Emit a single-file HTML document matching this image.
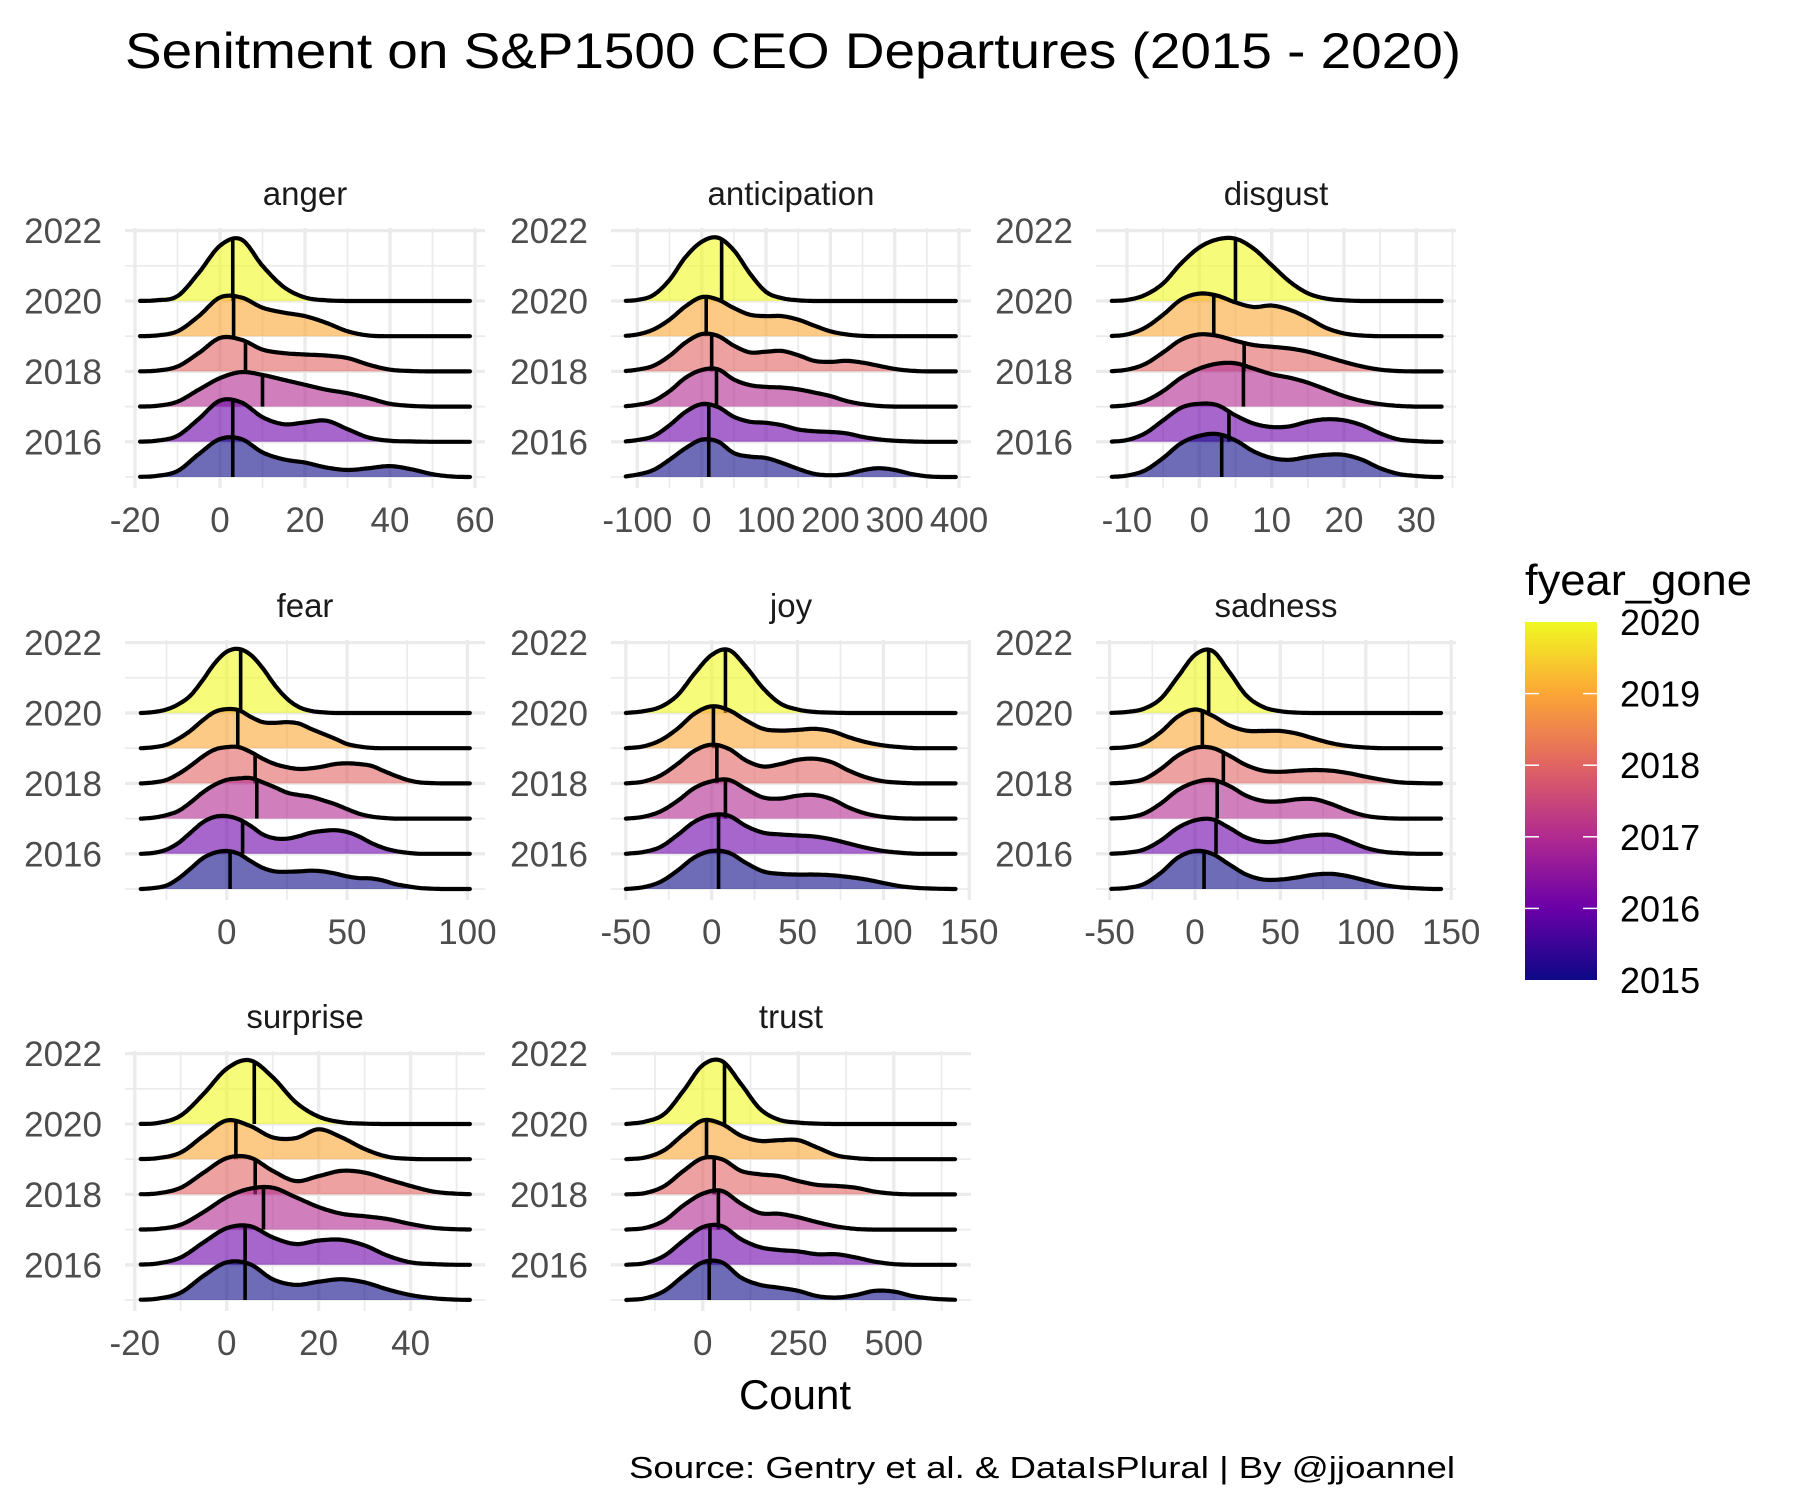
<!DOCTYPE html>
<html><head><meta charset="utf-8"><title>CEO Departures Sentiment</title>
<style>html,body{margin:0;padding:0;background:#fff}svg{display:block}</style></head>
<body>
<svg id="chart" width="1800" height="1500" viewBox="0 0 1800 1500" xmlns="http://www.w3.org/2000/svg" font-family="Liberation Sans, Arial, sans-serif">
<defs>
<linearGradient id="plasma" x1="0" y1="1" x2="0" y2="0">
<stop offset="0" stop-color="#0d0887"/><stop offset="0.2" stop-color="#6a00a8"/><stop offset="0.4" stop-color="#b12a90"/><stop offset="0.6" stop-color="#e16462"/><stop offset="0.8" stop-color="#fca636"/><stop offset="1" stop-color="#f0f921"/>
</linearGradient>
</defs>
<rect width="1800" height="1500" fill="#fff"/>
<text x="125" y="68" font-size="50" fill="#000" textLength="1336" lengthAdjust="spacingAndGlyphs">Senitment on S&amp;P1500 CEO Departures (2015 - 2020)</text>
<g id="panels"></g>
<text x="795" y="1409" font-size="42" text-anchor="middle" fill="#000">Count</text>
<text x="1455" y="1478" font-size="31" text-anchor="end" fill="#000" textLength="826" lengthAdjust="spacingAndGlyphs">Source: Gentry et al. &amp; DataIsPlural | By @jjoannel</text>
<g>
<text x="1525" y="595" font-size="44" fill="#000" textLength="227" lengthAdjust="spacingAndGlyphs">fyear_gone</text>
<rect x="1525" y="622" width="72" height="358" fill="url(#plasma)"/>
<g id="legendTicks"></g>
</g>
</svg>
<script>
// ---------- data ----------
const years = [2020, 2019, 2018, 2017, 2016, 2015];
const legendYears = [2015, 2016, 2017, 2018, 2019, 2020];
const yTickLabels = ["2016", "2018", "2020", "2022"];

const angerXs = [-20,-15,-10,-5,0,5,10,15,20,25,30,35,40,45,50,55,60];
const anger2020 = [0,0.02,0.14,0.8,1.57,1.75,1.0,0.4,0.1,0.02,0,0,0,0,0,0,0];
const anger2019 = [0,0.02,0.14,0.57,1.1,1.1,0.81,0.67,0.57,0.38,0.14,0.02,0,0,0,0,0];
const anger2018 = [0,0.02,0.14,0.52,0.95,0.9,0.62,0.52,0.48,0.45,0.38,0.19,0.05,0.01,0,0,0];
const anger2017 = [0,0.02,0.14,0.48,0.81,0.98,0.9,0.76,0.62,0.48,0.38,0.24,0.08,0.02,0,0,0];
const anger2016 = [0,0.03,0.17,0.65,1.17,1.12,0.7,0.5,0.55,0.6,0.36,0.12,0.03,0.01,0,0,0];
const anger2015 = [0,0.03,0.17,0.65,1.08,1.08,0.7,0.5,0.41,0.27,0.2,0.25,0.31,0.22,0.08,0.01,0];
const angerMedians = [3,3.2,6,10,3,3];
const angerTicks = ["-20","0","20","40","60"];

const anticipationXs = [-125,-100,-75,-50,-25,0,25,50,75,100,125,150,175,200,225,250,275,300,325,350,375,400];
const anticipation2020 = [0,0.03,0.17,0.6,1.25,1.68,1.8,1.44,0.78,0.26,0.08,0.02,0,0,0,0,0,0,0,0,0,0];
const anticipation2019 = [0,0.05,0.19,0.47,0.85,1.11,1.04,0.8,0.61,0.57,0.57,0.47,0.3,0.14,0.05,0.01,0,0,0,0,0,0];
const anticipation2018 = [0,0.05,0.16,0.44,0.82,1.06,1.01,0.73,0.54,0.56,0.58,0.46,0.3,0.27,0.3,0.25,0.16,0.07,0.02,0,0,0];
const anticipation2017 = [0,0.05,0.16,0.44,0.82,1.04,1.06,0.77,0.61,0.56,0.54,0.49,0.4,0.3,0.16,0.07,0.02,0,0,0,0,0];
const anticipation2016 = [0,0.05,0.16,0.47,0.85,1.07,0.99,0.71,0.57,0.54,0.47,0.35,0.3,0.28,0.24,0.14,0.07,0.03,0.01,0,0,0];
const anticipation2015 = [0,0.07,0.2,0.49,0.82,1.06,1.01,0.68,0.58,0.54,0.4,0.23,0.09,0.05,0.08,0.19,0.25,0.2,0.09,0.02,0,0];
const anticipationMedians = [31,7,15.5,23,11,11];
const anticipationTicks = ["-100","0","100","200","300","400"];

const disgustXs = [-12.5,-10,-7.5,-5,-2.5,0,2.5,5,7.5,10,12.5,15,17.5,20,22.5,25,27.5,30,32.5,35];
const disgust2020 = [0,0.03,0.17,0.5,1.07,1.52,1.75,1.77,1.49,1.02,0.55,0.22,0.07,0.02,0,0,0,0,0,0];
const disgust2019 = [0,0.05,0.24,0.61,1.04,1.21,1.15,0.96,0.83,0.87,0.75,0.52,0.24,0.08,0.02,0,0,0,0,0];
const disgust2018 = [0,0.05,0.21,0.54,0.9,1.05,1.01,0.87,0.75,0.7,0.65,0.56,0.42,0.27,0.14,0.05,0.01,0,0,0];
const disgust2017 = [0,0.04,0.16,0.44,0.82,1.08,1.22,1.23,1.08,0.92,0.82,0.68,0.49,0.3,0.16,0.07,0.02,0,0,0];
const disgust2016 = [0,0.05,0.24,0.61,0.97,1.08,1.04,0.75,0.52,0.42,0.44,0.57,0.64,0.61,0.47,0.24,0.07,0.02,0,0];
const disgust2015 = [0,0.04,0.19,0.54,0.96,1.17,1.22,1.04,0.73,0.54,0.49,0.57,0.63,0.63,0.49,0.25,0.09,0.03,0,0];
const disgustMedians = [5,2,6.2,6.1,4.1,3.1];
const disgustTicks = ["-10","0","10","20","30"];

const fearXs = [-35,-30,-25,-20,-15,-10,-5,0,5,10,15,20,25,30,35,40,45,50,55,60,65,70,75,80,85,90,95,100];
const fear2020 = [0,0.03,0.1,0.25,0.5,0.93,1.41,1.74,1.82,1.65,1.27,0.79,0.41,0.17,0.06,0.02,0,0,0,0,0,0,0,0,0,0,0,0];
const fear2019 = [0,0.03,0.1,0.27,0.5,0.79,1.03,1.11,1.08,0.89,0.74,0.72,0.74,0.7,0.55,0.41,0.27,0.12,0.05,0.01,0,0,0,0,0,0,0,0];
const fear2018 = [0,0.03,0.1,0.27,0.5,0.76,0.96,1.03,1.03,0.89,0.7,0.55,0.46,0.41,0.43,0.48,0.55,0.57,0.55,0.5,0.36,0.22,0.1,0.03,0.01,0,0,0];
const fear2017 = [0,0.03,0.1,0.22,0.46,0.74,0.96,1.1,1.14,1.15,1.03,0.89,0.74,0.67,0.62,0.52,0.41,0.27,0.14,0.06,0.02,0,0,0,0,0,0,0];
const fear2016 = [0,0.03,0.12,0.31,0.6,0.89,1.05,1.07,0.98,0.79,0.55,0.44,0.43,0.5,0.6,0.65,0.67,0.62,0.49,0.31,0.17,0.08,0.03,0,0,0,0,0];
const fear2015 = [0,0.03,0.1,0.3,0.58,0.87,1.03,1.08,1.0,0.79,0.6,0.5,0.49,0.5,0.52,0.5,0.44,0.36,0.31,0.3,0.24,0.14,0.08,0.03,0.01,0,0,0];
const fearMedians = [5.8,4.6,11.8,12.5,6.6,1.4];
const fearTicks = ["0","50","100"];

const joyXs = [-50,-40,-30,-20,-10,0,10,20,30,40,50,60,70,80,90,100,110,120,130,140];
const joy2020 = [0,0.05,0.17,0.5,1.12,1.65,1.79,1.31,0.7,0.27,0.1,0.03,0.01,0,0,0,0,0,0,0];
const joy2019 = [0,0.05,0.22,0.55,0.98,1.19,1.08,0.79,0.55,0.5,0.52,0.55,0.48,0.31,0.17,0.08,0.03,0,0,0];
const joy2018 = [0,0.05,0.22,0.55,0.93,1.1,0.98,0.65,0.48,0.55,0.67,0.7,0.6,0.36,0.17,0.06,0.02,0,0,0];
const joy2017 = [0,0.05,0.2,0.5,0.87,1.06,1.1,0.84,0.6,0.57,0.65,0.67,0.55,0.31,0.14,0.05,0.01,0,0,0];
const joy2016 = [0,0.05,0.19,0.53,0.91,1.1,1.08,0.79,0.6,0.55,0.52,0.49,0.41,0.29,0.17,0.08,0.03,0,0,0];
const joy2015 = [0,0.05,0.2,0.52,0.9,1.08,1.03,0.74,0.5,0.43,0.41,0.41,0.39,0.34,0.27,0.17,0.08,0.03,0.01,0];
const joyMedians = [8,1,3,8,4,4];
const joyTicks = ["-50","0","50","100","150"];

const sadnessXs = [-50,-40,-30,-20,-10,0,10,20,30,40,50,60,70,80,90,100,110,120,130,140,150];
const sadness2020 = [0,0.03,0.12,0.41,1.03,1.65,1.77,1.17,0.5,0.17,0.05,0.01,0,0,0,0,0,0,0,0,0];
const sadness2019 = [0,0.03,0.14,0.46,0.9,1.1,0.93,0.65,0.5,0.49,0.49,0.41,0.27,0.14,0.06,0.02,0,0,0,0,0];
const sadness2018 = [0,0.03,0.12,0.41,0.79,1.01,1.01,0.79,0.52,0.36,0.33,0.36,0.38,0.36,0.29,0.19,0.1,0.03,0.01,0,0];
const sadness2017 = [0,0.03,0.14,0.43,0.81,1.03,1.1,0.93,0.65,0.5,0.49,0.55,0.55,0.41,0.22,0.08,0.02,0,0,0,0];
const sadness2016 = [0,0.03,0.12,0.38,0.74,0.95,0.98,0.74,0.46,0.34,0.36,0.46,0.53,0.53,0.36,0.17,0.06,0.02,0,0,0];
const sadness2015 = [0,0.03,0.14,0.46,0.89,1.08,1.0,0.7,0.41,0.27,0.27,0.33,0.41,0.43,0.36,0.24,0.12,0.05,0.02,0,0];
const sadnessMedians = [8,4.3,16.6,13,12.3,5.3];
const sadnessTicks = ["-50","0","50","100","150"];

const surpriseXs = [-20,-15,-10,-5,0,5,10,15,20,25,30,35,40,45,50,55];
const surprise2020 = [0,0.03,0.24,0.86,1.57,1.81,1.33,0.62,0.21,0.05,0.01,0,0,0,0,0];
const surprise2019 = [0,0.03,0.19,0.67,1.1,0.95,0.62,0.6,0.85,0.62,0.29,0.07,0.01,0,0,0];
const surprise2018 = [0,0.03,0.19,0.62,1.03,1.05,0.67,0.38,0.52,0.67,0.62,0.43,0.24,0.08,0.02,0];
const surprise2017 = [0,0.02,0.14,0.5,0.92,1.16,1.19,0.92,0.64,0.45,0.38,0.3,0.16,0.05,0.01,0];
const surprise2016 = [0,0.04,0.21,0.64,1.04,1.1,0.78,0.59,0.69,0.71,0.55,0.26,0.07,0.02,0,0];
const surprise2015 = [0,0.04,0.21,0.69,1.07,1.02,0.59,0.43,0.52,0.59,0.5,0.3,0.14,0.05,0.01,0];
const surpriseMedians = [6,2,6.2,8,4,4];
const surpriseTicks = ["-20","0","20","40"];

const trustXs = [-200,-150,-100,-50,0,50,100,150,200,250,300,350,400,450,500,550,600,650,700];
const trust2020 = [0,0.07,0.29,0.95,1.67,1.79,1.14,0.43,0.12,0.04,0.01,0,0,0,0,0,0,0,0];
const trust2019 = [0,0.05,0.26,0.71,1.1,1.0,0.67,0.52,0.54,0.54,0.33,0.11,0.03,0,0,0,0,0,0];
const trust2018 = [0,0.04,0.24,0.67,1.03,1.0,0.67,0.57,0.52,0.38,0.27,0.24,0.19,0.08,0.02,0,0,0,0];
const trust2017 = [0,0.05,0.26,0.69,1.02,1.1,0.74,0.47,0.45,0.35,0.21,0.09,0.02,0,0,0,0,0,0];
const trust2016 = [0,0.05,0.26,0.69,1.07,1.1,0.73,0.5,0.42,0.38,0.3,0.3,0.21,0.09,0.02,0,0,0,0];
const trust2015 = [0,0.05,0.26,0.69,1.07,1.07,0.64,0.43,0.35,0.26,0.11,0.07,0.14,0.26,0.24,0.11,0.04,0.01,0];
const trustMedians = [57,10,30,41,19,17];
const trustTicks = ["0","250","500"];

// ---------- layout ----------
const NS = "http://www.w3.org/2000/svg";
const COL_L = [125, 611, 1096], COL_W = 360;
const ROW_BASE = [477, 889, 1300];
const UNIT = 35.2;
const FILLS = {2020:"#f0f921",2019:"#fca636",2018:"#e16462",2017:"#b12a90",2016:"#6a00a8",2015:"#0d0887"};

const panels = [
  {name:"anger", col:0,row:0, x0:220, k:4.25, lo:-18.8, hi:58.8, major:[-20,0,20,40,60], minor:[-10,10,30,50], labels:angerTicks, xs:angerXs, dens:[anger2020,anger2019,anger2018,anger2017,anger2016,anger2015], med:angerMedians},
  {name:"anticipation", col:1,row:0, x0:701.7, k:0.6433, lo:-118, hi:395, major:[-100,0,100,200,300,400], minor:[-50,50,150,250,350], labels:anticipationTicks, xs:anticipationXs, dens:[anticipation2020,anticipation2019,anticipation2018,anticipation2017,anticipation2016,anticipation2015], med:anticipationMedians},
  {name:"disgust", col:2,row:0, x0:1199.3, k:7.233, lo:-12.1, hi:33.5, major:[-10,0,10,20,30], minor:[-5,5,15,25,35], labels:disgustTicks, xs:disgustXs, dens:[disgust2020,disgust2019,disgust2018,disgust2017,disgust2016,disgust2015], med:disgustMedians},
  {name:"fear", col:0,row:1, x0:226.7, k:2.407, lo:-35.7, hi:101, major:[0,50,100], minor:[-25,25,75], labels:fearTicks, xs:fearXs, dens:[fear2020,fear2019,fear2018,fear2017,fear2016,fear2015], med:fearMedians},
  {name:"joy", col:1,row:1, x0:711.7, k:1.717, lo:-50, hi:142, major:[-50,0,50,100,150], minor:[-25,25,75,125], labels:joyTicks, xs:joyXs, dens:[joy2020,joy2019,joy2018,joy2017,joy2016,joy2015], med:joyMedians},
  {name:"sadness", col:2,row:1, x0:1195, k:1.708, lo:-49, hi:144, major:[-50,0,50,100,150], minor:[-25,25,75,125], labels:sadnessTicks, xs:sadnessXs, dens:[sadness2020,sadness2019,sadness2018,sadness2017,sadness2016,sadness2015], med:sadnessMedians},
  {name:"surprise", col:0,row:2, x0:226.7, k:4.597, lo:-18.7, hi:52.9, major:[-20,0,20,40], minor:[-10,10,30,50], labels:surpriseTicks, xs:surpriseXs, dens:[surprise2020,surprise2019,surprise2018,surprise2017,surprise2016,surprise2015], med:surpriseMedians},
  {name:"trust", col:1,row:2, x0:702.7, k:0.3822, lo:-200, hi:660, major:[0,250,500], minor:[-125,125,375,625], labels:trustTicks, xs:trustXs, dens:[trust2020,trust2019,trust2018,trust2017,trust2016,trust2015], med:trustMedians}
];

function interp(xs, ys, v){
  const n = xs.length;
  if (v <= xs[0]) return ys[0];
  if (v >= xs[n-1]) return ys[n-1];
  let i = 0; while (i < n-2 && v > xs[i+1]) i++;
  const h = xs[i+1]-xs[i], t = (v-xs[i])/h;
  const m = j => (j<=0) ? (ys[1]-ys[0]) : (j>=n-1 ? ys[n-1]-ys[n-2] : (ys[j+1]-ys[j-1])/2);
  const m0 = m(i), m1 = m(i+1);
  const t2=t*t, t3=t2*t;
  const r = (2*t3-3*t2+1)*ys[i] + (t3-2*t2+t)*m0 + (-2*t3+3*t2)*ys[i+1] + (t3-t2)*m1;
  return Math.max(0, r);
}
function mk(tag, attrs, parent){
  const e = document.createElementNS(NS, tag);
  for (const k in attrs) e.setAttribute(k, attrs[k]);
  parent.appendChild(e); return e;
}

const root = document.getElementById("panels");
panels.forEach(p => {
  const L = COL_L[p.col], R = L + COL_W;
  const base = ROW_BASE[p.row];
  const top = base - 249, bot = base + 11;
  const sx = v => p.x0 + p.k * v;
  const sy = (yr, h) => base - (yr - 2015) * UNIT - h * UNIT;
  const g = mk("g", {}, root);
  
  
  for (let yr = 2015; yr <= 2022; yr++) {
    const ln = mk("line", {x1:L, x2:R, y1:sy(yr,0), y2:sy(yr,0), stroke:"#ebebeb", "stroke-width": yr%2===0 ? 3.3 : 1.7}, g);
    
    
  }
  p.minor.forEach(v => {
    const ln = mk("line", {x1:sx(v), x2:sx(v), y1:top, y2:bot, stroke:"#ebebeb", "stroke-width":1.7}, g);
    
    
  });
  p.major.forEach((v, i) => {
    const ln = mk("line", {x1:sx(v), x2:sx(v), y1:top, y2:bot, stroke:"#ebebeb", "stroke-width":3.3}, g);
    
    
    const t = mk("text", {x:sx(v), y:bot + 44, "font-size":35, fill:"#4d4d4d", "text-anchor":"middle"}, g);
    
    
    t.textContent = p.labels[i];
  });
  yTickLabels.forEach(lbl => {
    const t = mk("text", {x:L - 23, y:sy(+lbl,0) + 12.5, "font-size":35, fill:"#4d4d4d", "text-anchor":"end"}, g);
    
    
    t.textContent = lbl;
  });
  const st = mk("text", {x:L + COL_W/2, y:top - 23, "font-size":33, fill:"#1a1a1a", "text-anchor":"middle"}, g);
  
  
  st.textContent = p.name;
  years.forEach((yr, idx) => {
    const ys = p.dens[idx];
    const N = 240; let pts = [];
    for (let s = 0; s <= N; s++) {
      const v = p.lo + (p.hi - p.lo) * s / N;
      pts.push([sx(v), sy(yr, interp(p.xs, ys, v))]);
    }
    const d = pts.map((q, j) => (j ? "L" : "M") + q[0].toFixed(1) + "," + q[1].toFixed(1)).join("");
    const area = mk("path", {d: d + "L" + sx(p.hi).toFixed(1) + "," + sy(yr,0) + "L" + sx(p.lo).toFixed(1) + "," + sy(yr,0) + "Z", fill:FILLS[yr], "fill-opacity":0.6, stroke:"none"}, g);
    
    
    const line = mk("path", {d:d, fill:"none", stroke:"#000", "stroke-width":4.2, "stroke-linejoin":"round", "stroke-linecap":"round"}, g);
    
    
    const m = p.med[idx];
    const ml = mk("line", {x1:sx(m), x2:sx(m), y1:sy(yr,0), y2:sy(yr, interp(p.xs, ys, m)), stroke:"#000", "stroke-width":3.6}, g);
    
    
  });
});

const lt = document.getElementById("legendTicks");
legendYears.forEach((yr, i) => {
  const y = 980 - i * 71.6;
  if (yr > 2015 && yr < 2020) {
    const a = mk("line", {x1:1525, x2:1539, y1:y, y2:y, stroke:"#fff", "stroke-width":1.5}, lt);
    
    
    const b = mk("line", {x1:1583, x2:1597, y1:y, y2:y, stroke:"#fff", "stroke-width":1.5}, lt);
    
    
  }
  const t = mk("text", {x:1620, y:y + 13, "font-size":36, fill:"#000"}, lt);
  
  
  t.textContent = String(yr);
});
</script>
</body></html>
